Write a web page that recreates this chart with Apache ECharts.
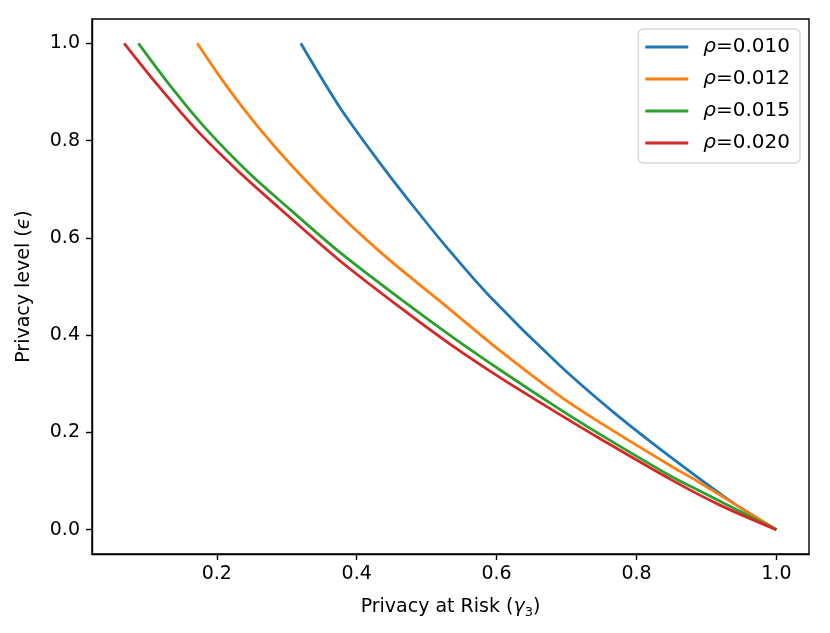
<!DOCTYPE html>
<html>
<head>
<meta charset="utf-8">
<script src="https://cdn.jsdelivr.net/npm/echarts@6/dist/echarts.min.js"></script>
<style>
  html, body { margin: 0; padding: 0; background: #fff; }
  #chart { width: 830px; height: 633px; }
</style>
</head>
<body>
<div id="chart"></div>
<script>
// values: [gamma3, epsilon]
var rhoNames = ['0.010', '0.012', '0.015', '0.020'];
var rho010 = [[0.320,1.0],[0.376,0.868],[0.43,0.760],[0.481,0.665],[0.529,0.580],[0.59,0.480],[0.69,0.338],[0.77,0.238],[0.848,0.150],[0.938,0.055],[1.0,0.0]];
var rho012 = [[0.172,1.0],[0.215,0.910],[0.262,0.823],[0.305,0.752],[0.37,0.655],[0.44,0.563],[0.519,0.470],[0.605,0.368],[0.69,0.275],[0.748,0.220],[0.848,0.132],[0.89,0.097],[1.0,0.0]];
var rho015 = [[0.088,1.0],[0.135,0.910],[0.186,0.822],[0.245,0.735],[0.305,0.658],[0.376,0.570],[0.462,0.475],[0.54,0.393],[0.619,0.315],[0.69,0.248],[0.748,0.196],[0.848,0.111],[0.89,0.080],[1.0,0.0]];
var rho020 = [[0.0676,1.0],[0.115,0.915],[0.171,0.822],[0.23,0.738],[0.288,0.663],[0.376,0.553],[0.462,0.457],[0.535,0.380],[0.609,0.309],[0.69,0.237],[0.748,0.187],[0.848,0.104],[0.92,0.050],[1.0,0.0]];
var xTicks = [0.2, 0.4, 0.6, 0.8, 1.0];
var yTicks = [0.0, 0.2, 0.4, 0.6, 0.8, 1.0];
var colors = ['#1f77b4', '#ff7f0e', '#2ca02c', '#d62728'];

var chartDom = document.getElementById('chart');
var myChart = echarts.init(chartDom);
var font = 'DejaVu Sans';
var fs = 19;
var allData = [rho010, rho012, rho015, rho020];

var series = allData.map(function (d, i) {
  return {
    name: rhoNames[i],
    type: 'line',
    data: d,
    symbol: 'none',
    smooth: 0.3,
    lineStyle: { width: 2.8, color: colors[i] },
    itemStyle: { color: colors[i] }
  };
});

var option = {
  animation: false,
  grid: {
    left: 92, right: 21, top: 19, bottom: 79,
    show: true, borderColor: '#000', borderWidth: 1.4
  },
  legend: {
    orient: 'vertical',
    right: 30, top: 29,
    padding: [7, 10, 9, 7],
    icon: 'rect',
    itemWidth: 43, itemHeight: 3, itemGap: 10,
    backgroundColor: '#fff',
    borderColor: '#d6d6d6', borderWidth: 1.4, borderRadius: 5,
    formatter: function (n) { return '{i|ρ}=' + n; },
    textStyle: {
      fontFamily: font, fontSize: 20, color: '#000', lineHeight: 22, padding: [0, 0, 0, 10],
      rich: { i: { fontFamily: font, fontSize: 20, fontStyle: 'italic', color: '#000' } }
    },
    data: rhoNames
  },
  xAxis: {
    type: 'value',
    min: 0.0216, max: 1.0466,
    name: '{t|Privacy at Risk (}{i|γ}{s|3}{t|)}',
    nameLocation: 'middle', nameGap: 41,
    nameTextStyle: {
      rich: {
        t: { fontFamily: font, fontSize: fs, color: '#000' },
        i: { fontFamily: font, fontSize: fs, fontStyle: 'italic', color: '#000' },
        s: { fontFamily: font, fontSize: 13, color: '#000', padding: [11, 0, 0, 0] }
      }
    },
    splitLine: { show: false },
    axisLine: { show: true, onZero: false, lineStyle: { color: '#000', width: 1.4 } },
    axisTick: { show: true, length: 6, customValues: xTicks, lineStyle: { color: '#000', width: 1.4 } },
    axisLabel: {
      customValues: xTicks, margin: 11,
      fontFamily: font, fontSize: fs, color: '#000',
      formatter: function (v) { return v.toFixed(1); }
    }
  },
  yAxis: {
    type: 'value',
    min: -0.05, max: 1.05,
    name: '{t|Privacy level (}{i|ϵ}{t|)}',
    nameLocation: 'middle', nameGap: 58,
    nameTextStyle: {
      rich: {
        t: { fontFamily: font, fontSize: fs, color: '#000' },
        i: { fontFamily: font, fontSize: fs, fontStyle: 'italic', color: '#000' }
      }
    },
    splitLine: { show: false },
    axisLine: { show: true, onZero: false, lineStyle: { color: '#000', width: 1.4 } },
    axisTick: { show: true, length: 6, customValues: yTicks, lineStyle: { color: '#000', width: 1.4 } },
    axisLabel: {
      customValues: yTicks, margin: 12,
      fontFamily: font, fontSize: fs, color: '#000',
      formatter: function (v) { return v.toFixed(1); }
    }
  },
  series: series
};

myChart.setOption(option);
</script>
</body>
</html>
